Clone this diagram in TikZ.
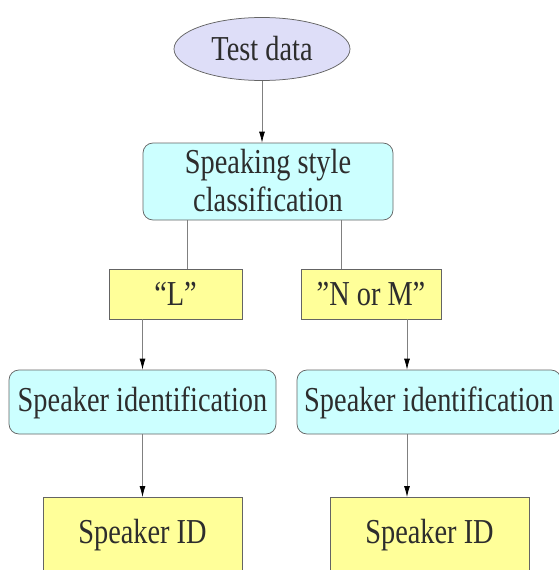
\documentclass[tikz,border=0pt]{standalone}
\usepackage{fontspec}
\setmainfont{Liberation Serif}
\usetikzlibrary{shapes.geometric,arrows.meta}

\definecolor{edgegray}{RGB}{128,128,128}
\definecolor{bordergray}{RGB}{100,100,100}
\definecolor{textgray}{RGB}{45,45,45}
\definecolor{lavender}{RGB}{222,222,248}
\definecolor{paleCyan}{RGB}{204,255,255}
\definecolor{paleYellow}{RGB}{255,255,153}

% narrow the text the way the original renderer did
\newcommand{\narrowtext}[1]{\scalebox{0.81}[1]{#1}}
% move text up or down inside its box
\newcommand{\nudge}[2]{\raisebox{#1}[\height][\depth]{#2}}

\tikzset{every picture/.style={line width=0.75pt}}
\tikzset{
  boxtext/.style={text=textgray,font=\fontsize{35}{38}\selectfont,inner sep=0pt},
  startnode/.style={boxtext,ellipse,draw=bordergray,fill=lavender},
  procbox/.style={boxtext,rectangle,rounded corners=10pt,draw=bordergray,fill=paleCyan},
  databox/.style={boxtext,rectangle,draw=bordergray,fill=paleYellow},
  flow/.style={draw=edgegray,-{Latex[length=11pt,width=6pt,color=black]}},
  plain/.style={draw=edgegray}
}

\begin{document}
\begin{tikzpicture}[x=1pt,y=1pt,yscale=-1,xscale=1]
\path[use as bounding box] (0,0) rectangle (559,570);
\clip (0,0) rectangle (559,570);

% nodes
\node[startnode,minimum width=176,minimum height=63] (test) at (262,49) {\narrowtext{Test data}};
\node[procbox,minimum width=250,minimum height=77] (cls) at (268,181.5)
  {\nudge{-3pt}{\narrowtext{\begin{tabular}{@{}c@{}}Speaking style\\classification\end{tabular}}}};
\node[databox,minimum width=133,minimum height=50] (low) at (175.5,294) {\narrowtext{“L”}};
\node[databox,minimum width=140,minimum height=50] (nm) at (371,294) {\narrowtext{”N or M”}};
\node[procbox,minimum width=267,minimum height=64] (sidl) at (142.5,402) {\nudge{-1pt}{\narrowtext{Speaker identification}}};
\node[procbox,minimum width=264,minimum height=64] (sidr) at (429,402) {\nudge{-1pt}{\narrowtext{Speaker identification}}};
\node[databox,minimum width=199,minimum height=80,anchor=north] (idl) at (142.5,497) {\nudge{2pt}{\narrowtext{Speaker ID}}};
\node[databox,minimum width=199,minimum height=80,anchor=north] (idr) at (429.5,497) {\nudge{2pt}{\narrowtext{Speaker ID}}};

% connectors
\draw[flow] (test.south) -- (test.south |- cls.north);
\draw[plain] (187,0 |- cls.south) -- (187,0 |- low.north);
\draw[plain] (341,0 |- cls.south) -- (341,0 |- nm.north);
\draw[flow] (low.south -| sidl.north) -- (sidl.north);
\draw[flow] (407,0 |- nm.south) -- (407,0 |- sidr.north);
\draw[flow] (sidl.south) -- (idl.north);
\draw[flow] (407,0 |- sidr.south) -- (407,0 |- idr.north);

\end{tikzpicture}
\end{document}
